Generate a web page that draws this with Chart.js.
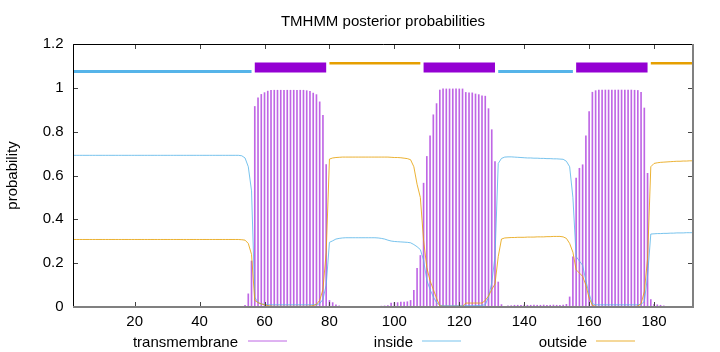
<!DOCTYPE html>
<html>
<head>
<meta charset="utf-8">
<title>TMHMM posterior probabilities</title>
<script src="https://cdn.jsdelivr.net/npm/chart.js@4.4.1/dist/chart.umd.min.js"></script>
<style>
    html, body { margin: 0; padding: 0; background: #fff; }
</style>
</head>
<body>
<canvas id="tmhmmChart" width="720" height="352"></canvas>
<script>
// Posterior probabilities per residue (position 1..192)
const tmProb = [
    0, 0, 0, 0, 0, 0, 0, 0, 0, 0,
    0, 0, 0, 0, 0, 0, 0, 0, 0, 0,
    0, 0, 0, 0, 0, 0, 0, 0, 0, 0,
    0, 0, 0, 0, 0, 0, 0, 0, 0, 0,
    0, 0, 0, 0, 0, 0, 0, 0, 0, 0,
    0, 0, 0.002, 0.008, 0.06, 0.21, 0.915, 0.954, 0.970, 0.978,
    0.985, 0.989, 0.989, 0.989, 0.989, 0.989, 0.989, 0.989, 0.989, 0.989,
    0.989, 0.989, 0.987, 0.984, 0.976, 0.969, 0.936, 0.875, 0.650, 0.030,
    0.020, 0.010, 0.005, 0.002, 0.001, 0, 0, 0, 0, 0.001,
    0.001, 0.001, 0.002, 0.002, 0.003, 0.004, 0.005, 0.006, 0.018, 0.020,
    0.020, 0.022, 0.023, 0.024, 0.030, 0.076, 0.176, 0.235, 0.565, 0.687,
    0.781, 0.877, 0.928, 0.990, 0.995, 0.995, 0.995, 0.995, 0.995, 0.995,
    0.995, 0.979, 0.977, 0.977, 0.972, 0.969, 0.964, 0.962, 0.905, 0.809,
    0.664, 0.114, 0.011, 0.003, 0.005, 0.006, 0.008, 0.008, 0.008, 0.009,
    0.008, 0.008, 0.009, 0.008, 0.008, 0.009, 0.008, 0.008, 0.009, 0.008,
    0.008, 0.009, 0.012, 0.046, 0.229, 0.588, 0.633, 0.649, 0.781, 0.892,
    0.980, 0.987, 0.990, 0.990, 0.990, 0.990, 0.990, 0.990, 0.990, 0.990,
    0.990, 0.990, 0.990, 0.989, 0.988, 0.980, 0.908, 0.610, 0.034, 0.012,
    0.010, 0.008, 0.005, 0.002, 0.001, 0, 0, 0, 0, 0,
    0, 0
];
const insideProb = [
    0.692, 0.692, 0.692, 0.692, 0.692, 0.692, 0.692, 0.692, 0.692, 0.692,
    0.692, 0.692, 0.692, 0.692, 0.692, 0.692, 0.692, 0.692, 0.692, 0.692,
    0.692, 0.692, 0.692, 0.692, 0.692, 0.692, 0.692, 0.692, 0.692, 0.692,
    0.692, 0.692, 0.692, 0.692, 0.692, 0.692, 0.692, 0.692, 0.692, 0.692,
    0.692, 0.692, 0.692, 0.692, 0.692, 0.692, 0.692, 0.692, 0.692, 0.692,
    0.692, 0.692, 0.690, 0.680, 0.640, 0.530, 0.045, 0.020, 0.014, 0.012,
    0.010, 0.010, 0.010, 0.010, 0.010, 0.010, 0.010, 0.010, 0.010, 0.010,
    0.010, 0.010, 0.010, 0.010, 0.010, 0.011, 0.015, 0.035, 0.100, 0.295,
    0.302, 0.310, 0.313, 0.315, 0.316, 0.316, 0.316, 0.316, 0.316, 0.316,
    0.316, 0.316, 0.316, 0.316, 0.315, 0.313, 0.310, 0.305, 0.301, 0.299,
    0.298, 0.297, 0.296, 0.295, 0.293, 0.285, 0.275, 0.262, 0.214, 0.122,
    0.080, 0.046, 0.020, 0.008, 0.006, 0.006, 0.006, 0.006, 0.006, 0.006,
    0.006, 0.006, 0.006, 0.006, 0.006, 0.007, 0.008, 0.010, 0.045, 0.110,
    0.230, 0.655, 0.678, 0.684, 0.685, 0.685, 0.684, 0.683, 0.682, 0.681,
    0.680, 0.680, 0.679, 0.679, 0.678, 0.678, 0.677, 0.677, 0.676, 0.676,
    0.675, 0.674, 0.665, 0.640, 0.500, 0.230, 0.210, 0.190, 0.120, 0.060,
    0.015, 0.010, 0.010, 0.010, 0.010, 0.010, 0.010, 0.010, 0.010, 0.010,
    0.010, 0.010, 0.010, 0.010, 0.010, 0.012, 0.025, 0.140, 0.333, 0.334,
    0.335, 0.335, 0.336, 0.336, 0.337, 0.337, 0.338, 0.338, 0.338, 0.339,
    0.339, 0.339
];
const outsideProb = [
    0.308, 0.308, 0.308, 0.308, 0.308, 0.308, 0.308, 0.308, 0.308, 0.308,
    0.308, 0.308, 0.308, 0.308, 0.308, 0.308, 0.308, 0.308, 0.308, 0.308,
    0.308, 0.308, 0.308, 0.308, 0.308, 0.308, 0.308, 0.308, 0.308, 0.308,
    0.308, 0.308, 0.308, 0.308, 0.308, 0.308, 0.308, 0.308, 0.308, 0.308,
    0.308, 0.308, 0.308, 0.308, 0.308, 0.308, 0.308, 0.308, 0.308, 0.308,
    0.308, 0.308, 0.307, 0.305, 0.290, 0.240, 0.030, 0.020, 0.014, 0.010,
    0.006, 0.004, 0.003, 0.003, 0.003, 0.003, 0.003, 0.003, 0.003, 0.003,
    0.003, 0.003, 0.003, 0.004, 0.006, 0.012, 0.030, 0.080, 0.250, 0.675,
    0.680, 0.682, 0.683, 0.684, 0.684, 0.684, 0.684, 0.684, 0.684, 0.684,
    0.684, 0.684, 0.684, 0.684, 0.684, 0.684, 0.684, 0.684, 0.683, 0.682,
    0.682, 0.681, 0.679, 0.677, 0.672, 0.640, 0.560, 0.500, 0.305, 0.180,
    0.120, 0.080, 0.040, 0.005, 0.003, 0.003, 0.003, 0.003, 0.003, 0.003,
    0.003, 0.018, 0.018, 0.018, 0.018, 0.018, 0.018, 0.030, 0.050, 0.080,
    0.105, 0.230, 0.310, 0.315, 0.316, 0.317, 0.317, 0.318, 0.318, 0.318,
    0.319, 0.319, 0.319, 0.320, 0.320, 0.320, 0.321, 0.321, 0.322, 0.322,
    0.322, 0.320, 0.313, 0.290, 0.250, 0.170, 0.155, 0.140, 0.100, 0.040,
    0.008, 0.003, 0.002, 0.002, 0.002, 0.002, 0.002, 0.002, 0.002, 0.002,
    0.002, 0.002, 0.002, 0.002, 0.004, 0.015, 0.070, 0.220, 0.640, 0.655,
    0.658, 0.660, 0.661, 0.662, 0.663, 0.664, 0.665, 0.665, 0.666, 0.666,
    0.667, 0.667
];
const positions = tmProb.map((v, i) => i + 1);

// Predicted topology segments drawn above the curves
const topoStart = [1, 57, 80, 109, 132, 156, 179];
const topoEnd = [56, 79, 108, 131, 155, 178, 192];
const topoState = ['inside', 'TMhelix', 'outside', 'TMhelix', 'inside', 'TMhelix', 'outside'];
const topoLevel = { inside: 1.075, TMhelix: 1.093, outside: 1.112 };

const xTickValues = [20, 40, 60, 80, 100, 120, 140, 160, 180];
const yTickValues = [0, 0.2, 0.4, 0.6, 0.8, 1, 1.2];
const yTickLabels = ['0', '0.2', '0.4', '0.6', '0.8', '1', '1.2'];
const seriesNames = ['transmembrane', 'inside', 'outside'];

const COLORS = { TMhelix: '#9400d3', inside: '#56b4e9', outside: '#e69f00' };
const THIN = { TMhelix: 'rgba(148, 0, 211, 0.6)', inside: 'rgba(86, 180, 233, 0.8)', outside: 'rgba(230, 159, 0, 0.8)' };
const SEG_WIDTH = { TMhelix: 10, inside: 3, outside: 2.5 };
const FONT = { family: "'Liberation Sans', Arial, sans-serif", size: 15, weight: 'normal' };

Chart.defaults.font.family = FONT.family;
Chart.defaults.font.size = FONT.size;
Chart.defaults.color = '#000';

function toPoints(values) {
    return values.map((v, i) => ({ x: positions[i], y: v }));
}

// Border, inward ticks and gnuplot style key (text first, then sample line)
const gnuplotFrame = {
    id: 'gnuplotFrame',
    afterDraw(chart) {
        const { ctx, chartArea: a, scales } = chart;
        ctx.save();

        ctx.strokeStyle = '#444';
        ctx.lineWidth = 1;
        ctx.beginPath();
        xTickValues.forEach(v => {
            const px = Math.round(scales.x.getPixelForValue(v)) + 0.5;
            ctx.moveTo(px, a.bottom);
            ctx.lineTo(px, a.bottom - 5);
            ctx.moveTo(px, a.top);
            ctx.lineTo(px, a.top + 5);
        });
        yTickValues.forEach(v => {
            const py = Math.round(scales.y.getPixelForValue(v)) + 0.5;
            ctx.moveTo(a.left, py);
            ctx.lineTo(a.left + 5, py);
            ctx.moveTo(a.right, py);
            ctx.lineTo(a.right - 5, py);
        });
        ctx.stroke();

        // top and left border: thin black
        ctx.strokeStyle = '#000';
        ctx.beginPath();
        ctx.moveTo(a.left + 0.5, a.bottom);
        ctx.lineTo(a.left + 0.5, a.top + 0.5);
        ctx.lineTo(a.right, a.top + 0.5);
        ctx.stroke();

        // bottom and right border: heavier grey
        ctx.strokeStyle = '#808080';
        ctx.lineWidth = 2;
        ctx.beginPath();
        ctx.moveTo(a.left, a.bottom);
        ctx.lineTo(a.right, a.bottom);
        ctx.lineTo(a.right, a.top);
        ctx.stroke();

        // key
        const keyColors = [THIN.TMhelix, THIN.inside, THIN.outside];
        const keyTextRight = [238, 413, 587];
        const keyLineStart = [248, 422, 596];
        ctx.font = FONT.size + 'px ' + FONT.family;
        ctx.fillStyle = '#000';
        ctx.textAlign = 'right';
        ctx.textBaseline = 'alphabetic';
        ctx.lineWidth = 1;
        seriesNames.forEach((name, i) => {
            ctx.fillText(name, keyTextRight[i], 346.5);
            ctx.strokeStyle = keyColors[i];
            ctx.beginPath();
            ctx.moveTo(keyLineStart[i], 341);
            ctx.lineTo(keyLineStart[i] + 39, 341);
            ctx.stroke();
        });

        ctx.restore();
    }
};

const datasets = [];

// topology bars
topoState.forEach((state, i) => {
    datasets.push({
        type: 'line',
        label: state,
        data: [{ x: topoStart[i], y: topoLevel[state] }, { x: topoEnd[i], y: topoLevel[state] }],
        borderColor: COLORS[state],
        borderWidth: SEG_WIDTH[state],
        borderCapStyle: 'butt',
        pointRadius: 0,
        fill: false
    });
});

datasets.push({
    type: 'line',
    label: seriesNames[2],
    data: toPoints(outsideProb),
    borderColor: THIN.outside,
    borderWidth: 1,
    pointRadius: 0,
    tension: 0,
    fill: false
});

datasets.push({
    type: 'line',
    label: seriesNames[1],
    data: toPoints(insideProb),
    borderColor: THIN.inside,
    borderWidth: 1,
    pointRadius: 0,
    tension: 0,
    fill: false
});

// impulses
datasets.push({
    type: 'bar',
    label: seriesNames[0],
    data: toPoints(tmProb),
    backgroundColor: THIN.TMhelix,
    borderWidth: 0,
    barThickness: 1,
    grouped: false
});

const ctx = document.getElementById('tmhmmChart');
new Chart(ctx, {
    type: 'line',
    data: { datasets: datasets },
    options: {
        responsive: false,
        animation: false,
        events: [],
        layout: { padding: { top: 0, right: 27, bottom: 0, left: 0 } },
        plugins: {
            legend: { display: false },
            tooltip: { enabled: false },
            title: {
                display: true,
                text: 'TMHMM posterior probabilities',
                fullSize: false,
                color: '#000',
                font: FONT,
                padding: { top: 12.7, bottom: 13.3 }
            }
        },
        scales: {
            x: {
                type: 'linear',
                min: 1,
                max: 192,
                offset: false,
                grid: { display: false, drawTicks: false },
                border: { display: false },
                afterBuildTicks: scale => {
                    scale.ticks = xTickValues.map(v => ({ value: v }));
                },
                afterFit: scale => {
                    scale.height = 45;
                },
                ticks: {
                    color: '#000',
                    font: FONT,
                    padding: 5.7,
                    maxRotation: 0,
                    autoSkip: false,
                    callback: value => String(value)
                }
            },
            y: {
                type: 'linear',
                min: 0,
                max: 1.2,
                grid: { display: false, drawTicks: false },
                border: { display: false },
                afterBuildTicks: scale => {
                    scale.ticks = yTickValues.map(v => ({ value: v }));
                },
                afterFit: scale => {
                    scale.width = 73;
                },
                ticks: {
                    color: '#000',
                    font: FONT,
                    padding: 9.5,
                    callback: (value, index) => yTickLabels[index]
                },
                title: {
                    display: true,
                    text: 'probability',
                    color: '#000',
                    font: FONT,
                    padding: { top: 4, bottom: 0 }
                }
            }
        }
    },
    plugins: [gnuplotFrame]
});
</script>
</body>
</html>
